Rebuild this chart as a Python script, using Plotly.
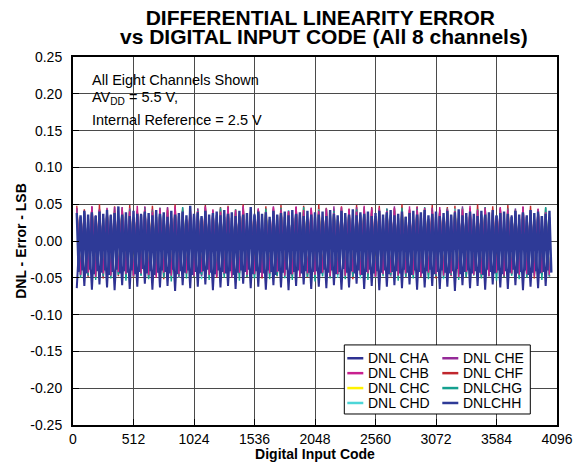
import plotly.graph_objects as go

# ---------------- data (DNL values in milli-LSB, read/estimated from the picture) ----------------
SAMPLE_CODES = list(range(32, 4064, 32))       # codes sampled for channels A-G
SAMPLE_CODES_H = list(range(32, 4064, 16))     # codes sampled for channel H (on top)

CHANNEL_NAMES = ["DNL CHA", "DNL CHB", "DNL CHC", "DNL CHD",
                 "DNL CHE", "DNL CHF", "DNLCHG", "DNLCHH"]
CHANNEL_COLORS = ["#2E3192", "#C8208F", "#FFF200", "#4DD6D8",
                  "#952A98", "#C0272D", "#14A08F", "#2E3A97"]

cha_mlsb = [
    -64, 33, -61, 30, -66, 35, -59, 31, -63, 36, -67, 29, -60, 34,
    -65, 32, -62, 37, -58, 30, -66, 33, -63, 35, -61, 31, -68, 34,
    -60, 29, -64, 36, -62, 32, -59, 30, -67, 35, -63, 33, -61, 31,
    -65, 34, -58, 30, -64, 37, -62, 32, -66, 29, -60, 35, -63, 33,
    -67, 31, -61, 36, -59, 30, -65, 34, -62, 32, -64, 35, -60, 29,
    -66, 33, -63, 31, -58, 36, -65, 30, -61, 34, -67, 32, -62, 35,
    -60, 31, -64, 33, -59, 29, -66, 36, -63, 30, -61, 34, -65, 32,
    -62, 35, -68, 31, -60, 33, -64, 30, -61, 36, -66, 32, -59, 34,
    -63, 31, -65, 35, -60, 30, -67, 33, -62, 29, -64, 34, -61, 32,
]
chb_mlsb = [
    44, -46, 40, -43, 47, -49, 42, -44, 45, -47, 39, -42, 46, -45,
    41, -48, 48, -44, 43, -46, 40, -50, 45, -43, 42, -47, 47, -45,
    39, -44, 44, -48, 41, -42, 46, -46, 43, -49, 40, -44, 45, -47,
    42, -43, 48, -46, 41, -45, 44, -48, 39, -44, 46, -42, 43, -47,
    40, -45, 47, -49, 42, -44, 45, -46, 41, -43, 44, -48, 38, -45,
    46, -47, 43, -42, 40, -46, 48, -44, 42, -49, 45, -45, 41, -43,
    44, -47, 39, -44, 47, -46, 42, -48, 45, -43, 40, -45, 46, -47,
    43, -44, 41, -49, 44, -42, 48, -46, 42, -45, 45, -48, 40, -43,
    46, -47, 43, -44, 41, -46, 47, -45, 42, -48, 44, -43, 39, -46,
]
chc_mlsb = [
    40, -41, 38, -43, 42, -40, 37, -44, 41, -42, 39, -39, 43, -43,
    38, -41, 40, -44, 36, -40, 42, -42, 39, -43, 41, -39, 37, -44,
    43, -41, 38, -42, 40, -40, 42, -43, 36, -44, 41, -41, 39, -42,
    37, -40, 43, -43, 40, -41, 38, -44, 42, -39, 39, -42, 41, -43,
    36, -41, 40, -40, 43, -44, 38, -42, 41, -41, 37, -43, 42, -40,
    39, -44, 40, -41, 38, -42, 43, -39, 36, -43, 41, -41, 39, -44,
    42, -40, 37, -42, 40, -43, 38, -41, 43, -44, 39, -39, 41, -42,
    36, -43, 42, -41, 38, -40, 40, -44, 37, -42, 43, -41, 39, -43,
    41, -40, 38, -44, 42, -42, 36, -41, 40, -43, 39, -40, 41, -42,
]
chd_mlsb = [
    42, -47, 39, -44, 44, -50, 40, -46, 43, -48, 38, -45, 41, -51,
    44, -44, 39, -47, 42, -49, 40, -45, 45, -48, 38, -46, 43, -50,
    41, -44, 39, -47, 44, -52, 40, -45, 42, -48, 38, -46, 45, -49,
    41, -44, 43, -47, 39, -50, 42, -45, 40, -48, 44, -46, 38, -51,
    42, -44, 45, -47, 40, -49, 39, -45, 43, -48, 41, -46, 44, -50,
    38, -44, 42, -47, 40, -51, 45, -45, 39, -48, 43, -46, 41, -49,
    44, -44, 38, -47, 42, -50, 40, -45, 45, -48, 39, -46, 43, -52,
    41, -44, 44, -47, 38, -49, 42, -45, 40, -48, 45, -46, 39, -50,
    43, -44, 41, -47, 44, -51, 38, -45, 42, -48, 40, -46, 45, -49,
]
che_mlsb = [
    45, -44, 41, -47, 47, -42, 43, -49, 40, -45, 46, -43, 42, -48,
    44, -46, 39, -44, 47, -50, 43, -45, 41, -47, 46, -43, 42, -49,
    45, -44, 40, -46, 44, -48, 47, -42, 41, -47, 43, -45, 46, -50,
    39, -44, 45, -46, 42, -43, 44, -49, 40, -45, 47, -47, 43, -44,
    41, -48, 46, -42, 42, -46, 45, -50, 39, -44, 44, -47, 47, -43,
    41, -45, 43, -49, 46, -44, 40, -46, 45, -48, 42, -43, 44, -47,
    47, -45, 41, -50, 43, -44, 46, -46, 39, -43, 45, -48, 42, -45,
    44, -47, 40, -44, 47, -49, 43, -42, 41, -46, 46, -48, 42, -44,
    45, -47, 39, -45, 44, -43, 46, -49, 41, -44, 43, -46, 40, -48,
]
chf_mlsb = [
    48, -46, 43, -49, 46, -44, 50, -51, 42, -45, 47, -48, 44, -43,
    49, -50, 41, -46, 46, -47, 48, -44, 43, -52, 45, -45, 50, -48,
    42, -44, 47, -49, 44, -46, 49, -43, 41, -50, 46, -45, 48, -47,
    43, -44, 50, -49, 45, -46, 42, -51, 47, -43, 44, -48, 49, -45,
    41, -47, 46, -44, 48, -50, 43, -46, 50, -43, 45, -49, 42, -45,
    47, -47, 44, -52, 49, -44, 41, -46, 46, -48, 48, -43, 43, -50,
    45, -45, 50, -47, 42, -44, 47, -49, 44, -46, 49, -51, 41, -43,
    46, -48, 48, -45, 43, -47, 45, -44, 50, -50, 42, -46, 47, -43,
    44, -49, 49, -45, 41, -47, 46, -44, 48, -51, 43, -46, 45, -48,
]
chg_mlsb = [
    43, -50, 40, -47, 45, -53, 41, -48, 44, -51, 39, -46, 46, -54,
    42, -49, 40, -47, 44, -52, 41, -48, 45, -50, 39, -55, 43, -47,
    46, -51, 40, -49, 42, -46, 44, -53, 41, -48, 45, -50, 39, -47,
    43, -54, 46, -49, 40, -51, 42, -46, 44, -52, 41, -48, 45, -50,
    39, -53, 43, -47, 46, -49, 40, -55, 42, -48, 44, -51, 41, -46,
    45, -52, 39, -49, 43, -47, 46, -53, 40, -50, 42, -48, 44, -46,
    41, -54, 45, -49, 39, -51, 43, -47, 46, -52, 40, -48, 42, -50,
    44, -46, 41, -53, 45, -49, 39, -47, 43, -51, 46, -48, 40, -54,
    42, -49, 44, -47, 41, -52, 45, -50, 39, -46, 43, -53, 46, -48,
]
chh_mlsb = [
    38, -42, 35, -40, 41, -44, 36, -39, 39, -45, 34, -41, 40, -43,
    37, -40, 42, -46, 35, -42, 38, -39, 47, -44, 36, -41, 39, -43,
    34, -40, 41, -45, 37, -42, 36, -38, 40, -44, 38, -41, 35, -46,
    42, -43, 37, -40, 39, -42, 33, -44, 41, -39, 36, -45, 38, -41,
    40, -43, 35, -40, 48, -46, 37, -42, 39, -44, 34, -41, 41, -39,
    36, -43, 38, -45, 40, -40, 35, -42, 42, -44, 37, -41, 39, -46,
    34, -43, 41, -40, 36, -42, 38, -39, 46, -45, 35, -41, 40, -43,
    37, -44, 39, -40, 33, -42, 41, -46, 36, -41, 38, -43, 40, -39,
    35, -45, 42, -42, 37, -40, 39, -44, 34, -41, 41, -43, 36, -42,
    39, -41, 36, -44, 40, -39, 34, -43, 42, -40, 37, -45, 35, -42,
    41, -38, 38, -43, 36, -41, 43, -44, 35, -40, 39, -46, 37, -42,
    40, -39, 34, -44, 38, -41, 41, -43, 36, -40, 39, -45, 42, -42,
    35, -41, 37, -44, 40, -39, 33, -43, 38, -46, 41, -40, 36, -42,
    39, -44, 42, -41, 35, -39, 37, -45, 40, -42, 34, -40, 38, -43,
    41, -44, 36, -41, 39, -38, 43, -45, 35, -42, 38, -40, 40, -44,
    37, -41, 34, -43, 41, -46, 36, -39, 39, -42, 42, -44, 35, -40,
    38, -45, 40, -41, 37, -43, 33, -39, 41, -44, 36, -42, 39, -40,
    35, -46, 42, -43, 38, -41, 40, -44, 34, -42, 37, -40, 41, -43,
]
CHANNEL_DATA = [cha_mlsb, chb_mlsb, chc_mlsb, chd_mlsb,
                che_mlsb, chf_mlsb, chg_mlsb, chh_mlsb]
CHANNEL_CODES = [SAMPLE_CODES] * 7 + [SAMPLE_CODES_H]

X_TICKS = [0, 512, 1024, 1536, 2048, 2560, 3072, 3584, 4096]
Y_TICK_VALS = [0.25, 0.20, 0.15, 0.10, 0.05, 0.0, -0.05, -0.10, -0.15, -0.20, -0.25]
Y_TICK_TEXT = ["0.25", "0.20", "0.15", "0.10", "0.05", "0.00",
               "-0.05", "-0.10", "-0.15", "-0.20", "-0.25"]

TITLE_1 = "DIFFERENTIAL LINEARITY ERROR"
TITLE_2 = "vs DIGITAL INPUT CODE (All 8 channels)"
NOTE_LINES = ["All Eight Channels Shown", "AV<sub>DD</sub> = 5.5 V,", "Internal Reference = 2.5 V"]

# ---------------- figure ----------------
FONT = "Liberation Sans, Arial, Helvetica, sans-serif"
fig = go.Figure()

# drawing order (bottom -> top): F, C, D, E, G, B, A, H
draw_order = [5, 2, 3, 4, 6, 1, 0, 7]
widths = {0: 2.0, 7: 2.4}
for i in draw_order:
    fig.add_trace(go.Scatter(
        x=CHANNEL_CODES[i],
        y=[v / 1000.0 for v in CHANNEL_DATA[i]],
        mode="lines",
        name=CHANNEL_NAMES[i],
        line=dict(color=CHANNEL_COLORS[i], width=widths.get(i, 1.4)),
        showlegend=False,
    ))

fig.update_layout(
    width=580, height=462,
    margin=dict(l=73, r=23, t=57, b=37),
    paper_bgcolor="white", plot_bgcolor="white",
    font=dict(family=FONT, size=14, color="black"),
    title=dict(text=TITLE_1, x=0.511, xref="paper", xanchor="center",
               y=1 - 17.5 / 462, yref="container", yanchor="middle",
               font=dict(family=FONT, size=21, weight="bold", color="black")),
)

fig.update_xaxes(
    range=[0, 4096], tickvals=X_TICKS, ticktext=[str(t) for t in X_TICKS],
    showgrid=True, gridcolor="#4a4a4a", gridwidth=1,
    showline=True, linecolor="black", linewidth=2, mirror=True,
    ticks="inside", ticklen=6, tickcolor="black", automargin=False,
    tickfont=dict(size=14, family=FONT), zeroline=False,
    title=dict(text="Digital Input Code", standoff=2,
               font=dict(size=14, family=FONT, weight="bold")),
)
fig.update_yaxes(
    range=[-0.25, 0.25], tickvals=Y_TICK_VALS, ticktext=Y_TICK_TEXT,
    showgrid=True, gridcolor="#4a4a4a", gridwidth=1,
    showline=True, linecolor="black", linewidth=2, mirror=True,
    ticks="inside", ticklen=6, tickcolor="black", ticklabelstandoff=6,
    automargin=False,
    tickfont=dict(size=14, family=FONT), zeroline=False,
    title=dict(text="DNL - Error - LSB", standoff=0,
               font=dict(size=14, family=FONT, weight="bold")),
)

def px_x(p):
    return (p - 72.7) / 484.0

def px_y(p):
    return (425.0 - p) / 367.7

shapes = []
annotations = []

# second title line
annotations.append(dict(text=TITLE_2, xref="paper", yref="paper", x=px_x(324), y=px_y(36.5),
                        xanchor="center", yanchor="middle", showarrow=False,
                        font=dict(family=FONT, size=21, weight="bold", color="black")))

# note box (white background over grid)
shapes.append(dict(type="rect", xref="paper", yref="paper", layer="between",
                   x0=px_x(75), x1=px_x(262), y0=px_y(128), y1=px_y(65),
                   fillcolor="white", line=dict(width=0)))
for txt, yc in zip(NOTE_LINES, [80.5, 98, 120]):
    annotations.append(dict(text=txt, xref="paper", yref="paper", x=px_x(90), y=px_y(yc),
                            xanchor="left", yanchor="middle", showarrow=False,
                            font=dict(family=FONT, size=14.5, color="black")))

# legend box
shapes.append(dict(type="rect", xref="paper", yref="paper", layer="above",
                   x0=px_x(344), x1=px_x(530), y0=px_y(414), y1=px_y(345),
                   fillcolor="white", line=dict(color="black", width=1)))
row_y = [358.3, 373.2, 388.1, 403.0]
col_line = [(347, 363), (442, 458)]
col_text = [365.5, 460.5]
for i, name in enumerate(CHANNEL_NAMES):
    col, row = divmod(i, 4)
    y = px_y(row_y[row])
    shapes.append(dict(type="line", xref="paper", yref="paper", layer="above",
                       x0=px_x(col_line[col][0]), x1=px_x(col_line[col][1]), y0=y, y1=y,
                       line=dict(color=CHANNEL_COLORS[i], width=2.5)))
    annotations.append(dict(text=name, xref="paper", yref="paper", x=px_x(col_text[col]), y=y,
                            xanchor="left", yanchor="middle", showarrow=False,
                            font=dict(family=FONT, size=14, color="black")))

fig.update_layout(shapes=shapes, annotations=annotations)

fig.write_html("out.html", config={"displayModeBar": False},
               post_script="document.body.style.margin='0';")
